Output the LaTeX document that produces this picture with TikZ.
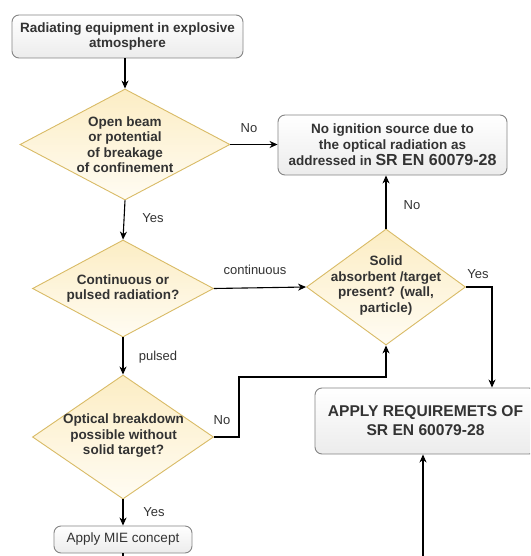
\documentclass[tikz,border=0pt]{standalone}
\usepackage{fontspec}
\setmainfont{Liberation Sans}
\usetikzlibrary{shapes.geometric,arrows.meta}
\definecolor{ytop}{HTML}{FCEDC4}
\definecolor{ybot}{HTML}{FFFCF3}
\definecolor{ystroke}{HTML}{D9BB66}
\definecolor{gstroke}{HTML}{858585}
\definecolor{gbot}{HTML}{ECECEC}
\definecolor{txt}{HTML}{333333}
\begin{document}
\begin{tikzpicture}[x=1pt,y=-1pt,
  dec/.style={diamond, draw=ystroke, line width=0.9pt, top color=ytop, bottom color=ybot, inner sep=0pt, shape aspect=1},
  dtext/.style={font=\fontsize{13.5}{15.5}\selectfont\bfseries, text=txt, align=center, inner sep=0pt},
  box/.style={draw=gstroke, rounded corners=7pt, top color=white, bottom color=gbot, line width=0.9pt, text=txt, align=center, inner sep=0pt},
  arr/.style={-{Stealth[length=8pt,width=7pt,inset=2.5pt]}, line width=1.1pt, draw=black},
  ln/.style={line width=1.1pt, draw=black},
  lab/.style={font=\fontsize{13}{15}\selectfont, text=txt, inner sep=0pt}]
\useasboundingbox (0,0) rectangle (530,556);
\clip (0,0) rectangle (530,556);
\fill[white] (0,0) rectangle (530,556);

% boxes
\node[box, minimum width=231pt, minimum height=43pt, font=\fontsize{13.5}{15}\selectfont\bfseries] (start) at (127.5,36.5)
  {Radiating equipment in explosive\\atmosphere};
\node[box, minimum width=229pt, minimum height=60pt, font=\fontsize{13.5}{16}\selectfont\bfseries] (noign) at (392.5,145)
  {No ignition source due to\\the optical radiation as\\addressed in {\fontsize{16}{17}\selectfont SR EN 60079-28}};
\node[box, minimum width=221pt, minimum height=66pt, font=\fontsize{15.6}{19}\selectfont\bfseries] (apply) at (425.5,421)
  {APPLY REQUIREMETS OF\\SR EN 60079-28};
\node[box, minimum width=138pt, minimum height=27pt, font=\fontsize{13.5}{15}\selectfont] (mie) at (123,539.5)
  {Apply MIE concept};

% decisions
\node[dec, minimum width=210pt, minimum height=111pt] (d1) at (125,144.5) {};
\node[dtext] (d1t) at (d1.center) {Open beam\\or potential\\of breakage\\of confinement};
\node[dec, minimum width=181pt, minimum height=97pt] (d2) at (123,288.5) {};
\node[dtext] (d2t) at (d2.center) {Continuous or\\pulsed radiation?};
\node[dec, minimum width=159pt, minimum height=116pt] (d3) at (386,287) {};
\node[dtext] (d3t) at (386,285.5) {Solid\\absorbent /target\\present? (wall,\\particle)};
\node[dec, minimum width=181pt, minimum height=124pt] (d4) at (123,437) {};
\node[dtext] (d4t) at (123.5,436) {Optical breakdown\\possible without\\solid target?};

% helper coordinates
\coordinate (k1) at (492,287);
\coordinate (k2) at (239,377);
\coordinate (bot1) at (123,565);
\coordinate (bot2) at (423,565);

% connectors
\draw[arr] (d1.north |- start.south) -- (d1.north);
\draw[arr] (d1.east) -- (noign.west |- d1.east);
\draw[arr] (d1.south) -- (d2.north);
\draw[arr] (d2.east) -- (d3.west);
\draw[arr] (d3.north) -- (d3.north |- noign.south);
\draw[arr] (d3.east) -- (k1) -- (k1 |- apply.north);
\draw[arr] (d2.south) -- (d4.north);
\draw[arr] (d4.east) -| (k2) -| (d3.south);
\draw[arr] (d4.south) -- (mie.north);
\draw[ln] (mie.south) -- (bot1);
\draw[arr] (bot2) -- (bot2 |- apply.south);

% labels
\node[lab] (l1) at (249,128) {No};
\node[lab] (l2) at (153,218) {Yes};
\node[lab] (l3) at (255,270) {continuous};
\node[lab] (l4) at (412,205) {No};
\node[lab] (l5) at (478,274) {Yes};
\node[lab] (l6) at (158,357) {pulsed};
\node[lab] (l7) at (222,420) {No};
\node[lab] (l8) at (154,512) {Yes};
\end{tikzpicture}
\end{document}
